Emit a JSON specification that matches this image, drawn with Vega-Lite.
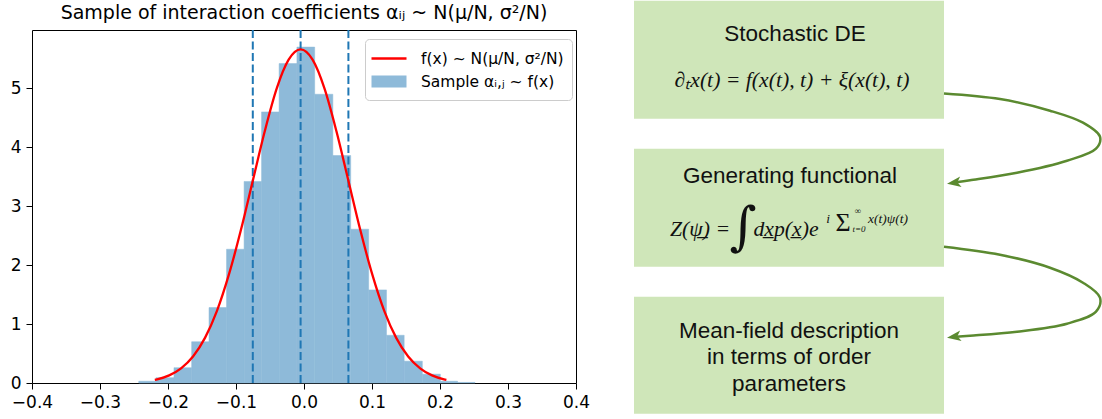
{
  "$schema": "https://vega.github.io/schema/vega-lite/v6.json",
  "padding": {"left": 9, "top": 0, "right": 0, "bottom": 0},
  "spacing": 24,
  "bounds": "flush",
  "config": {
    "view": {"stroke": null},
    "font": "DejaVu Sans",
    "axis": {"domain": false, "grid": false, "tickColor": "black", "tickSize": 6, "tickWidth": 1, "labelColor": "black", "labelFont": "DejaVu Sans", "labelFontSize": 17, "labelPadding": 5, "labelFlush": false, "labelOverlap": false, "title": null}
  },
  "resolve": {"scale": {"color": "independent", "shape": "independent"}, "legend": {"color": "independent", "shape": "independent"}},
  "datasets": {
    "bins": [
      {"bin_start": -0.2430, "bin_end": -0.2177, "density": 0.03, "series": "Sample αᵢ,ⱼ ~ f(x)"},
      {"bin_start": -0.2177, "bin_end": -0.1912, "density": 0.09, "series": "Sample αᵢ,ⱼ ~ f(x)"},
      {"bin_start": -0.1912, "bin_end": -0.1652, "density": 0.26, "series": "Sample αᵢ,ⱼ ~ f(x)"},
      {"bin_start": -0.1652, "bin_end": -0.1397, "density": 0.70, "series": "Sample αᵢ,ⱼ ~ f(x)"},
      {"bin_start": -0.1397, "bin_end": -0.1139, "density": 1.28, "series": "Sample αᵢ,ⱼ ~ f(x)"},
      {"bin_start": -0.1139, "bin_end": -0.0881, "density": 2.27, "series": "Sample αᵢ,ⱼ ~ f(x)"},
      {"bin_start": -0.0881, "bin_end": -0.0624, "density": 3.42, "series": "Sample αᵢ,ⱼ ~ f(x)"},
      {"bin_start": -0.0624, "bin_end": -0.0366, "density": 4.60, "series": "Sample αᵢ,ⱼ ~ f(x)"},
      {"bin_start": -0.0366, "bin_end": -0.0104, "density": 5.42, "series": "Sample αᵢ,ⱼ ~ f(x)"},
      {"bin_start": -0.0104, "bin_end": 0.0157, "density": 5.70, "series": "Sample αᵢ,ⱼ ~ f(x)"},
      {"bin_start": 0.0157, "bin_end": 0.0424, "density": 4.90, "series": "Sample αᵢ,ⱼ ~ f(x)"},
      {"bin_start": 0.0424, "bin_end": 0.0687, "density": 3.86, "series": "Sample αᵢ,ⱼ ~ f(x)"},
      {"bin_start": 0.0687, "bin_end": 0.0951, "density": 2.61, "series": "Sample αᵢ,ⱼ ~ f(x)"},
      {"bin_start": 0.0951, "bin_end": 0.1213, "density": 1.58, "series": "Sample αᵢ,ⱼ ~ f(x)"},
      {"bin_start": 0.1213, "bin_end": 0.1473, "density": 0.81, "series": "Sample αᵢ,ⱼ ~ f(x)"},
      {"bin_start": 0.1473, "bin_end": 0.1740, "density": 0.37, "series": "Sample αᵢ,ⱼ ~ f(x)"},
      {"bin_start": 0.1740, "bin_end": 0.2005, "density": 0.15, "series": "Sample αᵢ,ⱼ ~ f(x)"},
      {"bin_start": 0.2005, "bin_end": 0.2258, "density": 0.03, "series": "Sample αᵢ,ⱼ ~ f(x)"},
      {"bin_start": 0.2258, "bin_end": 0.2515, "density": 0.01, "series": "Sample αᵢ,ⱼ ~ f(x)"}
    ],
    "sigma_lines": [
      {"position": -0.0753},
      {"position": -0.0050},
      {"position": 0.0653}
    ],
    "pdf": [
      {"x": -0.2194, "y": 0.054, "series": "f(x) ~ N(μ/N, σ²/N)"},
      {"x": -0.2159, "y": 0.063, "series": "f(x) ~ N(μ/N, σ²/N)"},
      {"x": -0.1983, "y": 0.129, "series": "f(x) ~ N(μ/N, σ²/N)"},
      {"x": -0.1808, "y": 0.249, "series": "f(x) ~ N(μ/N, σ²/N)"},
      {"x": -0.1632, "y": 0.450, "series": "f(x) ~ N(μ/N, σ²/N)"},
      {"x": -0.1456, "y": 0.766, "series": "f(x) ~ N(μ/N, σ²/N)"},
      {"x": -0.1280, "y": 1.224, "series": "f(x) ~ N(μ/N, σ²/N)"},
      {"x": -0.1105, "y": 1.838, "series": "f(x) ~ N(μ/N, σ²/N)"},
      {"x": -0.0929, "y": 2.591, "series": "f(x) ~ N(μ/N, σ²/N)"},
      {"x": -0.0753, "y": 3.433, "series": "f(x) ~ N(μ/N, σ²/N)"},
      {"x": -0.0577, "y": 4.272, "series": "f(x) ~ N(μ/N, σ²/N)"},
      {"x": -0.0402, "y": 4.995, "series": "f(x) ~ N(μ/N, σ²/N)"},
      {"x": -0.0226, "y": 5.486, "series": "f(x) ~ N(μ/N, σ²/N)"},
      {"x": -0.0050, "y": 5.660, "series": "f(x) ~ N(μ/N, σ²/N)"},
      {"x": 0.0126, "y": 5.486, "series": "f(x) ~ N(μ/N, σ²/N)"},
      {"x": 0.0302, "y": 4.995, "series": "f(x) ~ N(μ/N, σ²/N)"},
      {"x": 0.0477, "y": 4.272, "series": "f(x) ~ N(μ/N, σ²/N)"},
      {"x": 0.0653, "y": 3.433, "series": "f(x) ~ N(μ/N, σ²/N)"},
      {"x": 0.0829, "y": 2.591, "series": "f(x) ~ N(μ/N, σ²/N)"},
      {"x": 0.1005, "y": 1.838, "series": "f(x) ~ N(μ/N, σ²/N)"},
      {"x": 0.1180, "y": 1.224, "series": "f(x) ~ N(μ/N, σ²/N)"},
      {"x": 0.1356, "y": 0.766, "series": "f(x) ~ N(μ/N, σ²/N)"},
      {"x": 0.1532, "y": 0.450, "series": "f(x) ~ N(μ/N, σ²/N)"},
      {"x": 0.1708, "y": 0.249, "series": "f(x) ~ N(μ/N, σ²/N)"},
      {"x": 0.1883, "y": 0.129, "series": "f(x) ~ N(μ/N, σ²/N)"},
      {"x": 0.2059, "y": 0.063, "series": "f(x) ~ N(μ/N, σ²/N)"},
      {"x": 0.2094, "y": 0.054, "series": "f(x) ~ N(μ/N, σ²/N)"}
    ],
    "boxes": [
      {"box": "sde", "x": 34, "x2": 344, "y": 0, "y2": 118},
      {"box": "gf", "x": 34, "x2": 344, "y": 148, "y2": 266},
      {"box": "mf", "x": 34, "x2": 344, "y": 296, "y2": 413}
    ],
    "headings": [
      {"label": "Stochastic DE", "x": 195, "y": 33},
      {"label": "Generating functional", "x": 190, "y": 175},
      {"label": "Mean-field description\nin terms of order\nparameters", "x": 189, "y": 330}
    ],
    "equations": [
      {"label": "∂ₜx(t) = f(x(t), t) + ξ(x(t), t)", "x": 192, "y": 79},
      {"label": "Z(ψ̲) =", "x": 100, "y": 228},
      {"label": "dx̲p(x̲)e", "x": 186, "y": 228}
    ],
    "integral": [
      {"label": "∫", "x": 143, "y": 227}
    ],
    "exponent": [
      {"label": "i", "x": 228, "y": 218},
      {"label": "x(t)ψ(t)", "x": 288, "y": 218}
    ],
    "sum": [
      {"label": "Σ", "x": 243, "y": 222}
    ],
    "limits": [
      {"label": "∞", "x": 258, "y": 210},
      {"label": "t=0", "x": 259, "y": 228}
    ],
    "arrows": [
      {"arrow": "a1", "i": 0, "x": 344, "y": 92.7},
      {"arrow": "a1", "i": 1, "x": 400, "y": 98.3},
      {"arrow": "a1", "i": 2, "x": 450, "y": 110},
      {"arrow": "a1", "i": 3, "x": 483, "y": 122},
      {"arrow": "a1", "i": 4, "x": 500, "y": 136},
      {"arrow": "a1", "i": 5, "x": 496, "y": 148},
      {"arrow": "a1", "i": 6, "x": 467, "y": 160},
      {"arrow": "a1", "i": 7, "x": 417, "y": 172},
      {"arrow": "a1", "i": 8, "x": 370, "y": 179.5},
      {"arrow": "a1", "i": 9, "x": 356, "y": 181.5},
      {"arrow": "a2", "i": 0, "x": 344, "y": 246},
      {"arrow": "a2", "i": 1, "x": 400, "y": 254},
      {"arrow": "a2", "i": 2, "x": 450, "y": 267},
      {"arrow": "a2", "i": 3, "x": 483, "y": 282},
      {"arrow": "a2", "i": 4, "x": 500, "y": 297},
      {"arrow": "a2", "i": 5, "x": 496, "y": 311},
      {"arrow": "a2", "i": 6, "x": 467, "y": 323},
      {"arrow": "a2", "i": 7, "x": 417, "y": 331},
      {"arrow": "a2", "i": 8, "x": 370, "y": 335},
      {"arrow": "a2", "i": 9, "x": 356, "y": 336}
    ],
    "arrowheads": [
      {"arrow": "a1", "x": 347, "y": 183},
      {"arrow": "a2", "x": 347, "y": 337}
    ]
  },
  "hconcat": [
    {
      "width": 544,
      "height": 353,
      "view": {"stroke": "black", "strokeWidth": 1},
      "title": {"text": "Sample of interaction coefficients αᵢⱼ ~ N(μ/N, σ²/N)", "font": "DejaVu Sans", "fontSize": 19, "fontWeight": "normal", "color": "black", "offset": 6, "anchor": "middle"},
      "layer": [
        {
          "data": {"name": "bins"},
          "mark": {"type": "bar", "stroke": "#8ebad9", "strokeWidth": 0.5},
          "encoding": {
            "x": {"field": "bin_start", "type": "quantitative", "scale": {"domain": [-0.4, 0.4], "nice": false, "zero": false}, "axis": {"values": [-0.4, -0.3, -0.2, -0.1, 0, 0.1, 0.2, 0.3, 0.4], "format": ".1f"}},
            "x2": {"field": "bin_end"},
            "y": {"field": "density", "type": "quantitative", "scale": {"domain": [0, 5.99], "nice": false}, "axis": {"values": [0, 1, 2, 3, 4, 5], "format": "d"}},
            "y2": {"datum": 0},
            "color": {
              "field": "series", "type": "nominal",
              "scale": {"domain": ["f(x) ~ N(μ/N, σ²/N)", "Sample αᵢ,ⱼ ~ f(x)"], "range": ["#ff0000", "#8ebad9"]},
              "legend": {
                "title": null, "orient": "none", "legendX": 333, "legendY": 9,
                "padding": 8, "strokeColor": "#cccccc", "fillColor": "rgba(255,255,255,0.8)", "cornerRadius": 4,
                "labelFont": "DejaVu Sans", "labelFontSize": 15.5, "labelColor": "black",
                "symbolSize": 400, "symbolStrokeWidth": 2.5, "symbolOpacity": 1, "labelOffset": 20.5, "rowPadding": 3, "symbolOffset": 4.5
              }
            }
          }
        },
        {
          "data": {"name": "sigma_lines"},
          "mark": {"type": "rule", "color": "#1f77b4", "strokeWidth": 2, "strokeDash": [8, 3.5]},
          "encoding": {
            "x": {"field": "position", "type": "quantitative"}
          }
        },
        {
          "data": {"name": "pdf"},
          "mark": {"type": "line", "interpolate": "monotone", "strokeWidth": 2.3},
          "encoding": {
            "x": {"field": "x", "type": "quantitative"},
            "y": {"field": "y", "type": "quantitative"},
            "color": {"field": "series", "type": "nominal"}
          }
        },
        {
          "data": {"name": "pdf"},
          "mark": {"type": "point", "filled": true, "size": 0, "opacity": 1},
          "encoding": {
            "x": {"field": "x", "type": "quantitative"},
            "y": {"field": "y", "type": "quantitative"},
            "color": {"field": "series", "type": "nominal"},
            "shape": {
              "field": "series", "type": "nominal",
              "scale": {"domain": ["f(x) ~ N(μ/N, σ²/N)", "Sample αᵢ,ⱼ ~ f(x)"], "range": ["M-1.75,0L1.75,0", "M-1.625,-0.475L1.625,-0.475L1.625,0.475L-1.625,0.475Z"]},
              "legend": {
                "title": null, "orient": "none", "legendX": 333, "legendY": 9,
                "padding": 8, "strokeColor": "#cccccc", "fillColor": "rgba(255,255,255,0.8)", "cornerRadius": 4,
                "labelFont": "DejaVu Sans", "labelFontSize": 15.5, "labelColor": "black",
                "symbolSize": 400, "symbolStrokeWidth": 2.5, "symbolOpacity": 1, "labelOffset": 20.5, "rowPadding": 3, "symbolOffset": 4.5
              }
            }
          }
        }
      ]
    },
    {
      "width": 502,
      "height": 390,
      "encoding": {
        "x": {"field": "x", "type": "quantitative", "scale": {"domain": [0, 502], "nice": false, "zero": false}, "axis": null},
        "y": {"field": "y", "type": "quantitative", "scale": {"domain": [29.3, 419.3], "nice": false, "zero": false, "reverse": true}, "axis": null}
      },
      "layer": [
        {
          "data": {"name": "boxes"},
          "mark": {"type": "rect", "color": "#cfe6b9"},
          "encoding": {
            "x2": {"field": "x2"},
            "y2": {"field": "y2"}
          }
        },
        {
          "data": {"name": "headings"},
          "mark": {"type": "text", "font": "Liberation Sans", "fontSize": 22.5, "color": "#111111", "align": "center", "baseline": "middle", "lineBreak": "\n", "lineHeight": 26.5},
          "encoding": {"text": {"field": "label"}}
        },
        {
          "data": {"name": "equations"},
          "mark": {"type": "text", "font": "Liberation Serif", "fontSize": 21.7, "fontStyle": "italic", "color": "#111111", "align": "center", "baseline": "middle"},
          "encoding": {"text": {"field": "label"}}
        },
        {
          "data": {"name": "integral"},
          "mark": {"type": "text", "font": "DejaVu Serif", "fontSize": 52, "color": "#111111", "align": "center", "baseline": "middle"},
          "encoding": {"text": {"field": "label"}}
        },
        {
          "data": {"name": "exponent"},
          "mark": {"type": "text", "font": "Liberation Serif", "fontSize": 13.5, "fontStyle": "italic", "color": "#111111", "align": "center", "baseline": "middle"},
          "encoding": {"text": {"field": "label"}}
        },
        {
          "data": {"name": "sum"},
          "mark": {"type": "text", "font": "Liberation Serif", "fontSize": 26, "color": "#111111", "align": "center", "baseline": "middle"},
          "encoding": {"text": {"field": "label"}}
        },
        {
          "data": {"name": "limits"},
          "mark": {"type": "text", "font": "Liberation Serif", "fontSize": 9, "fontStyle": "italic", "color": "#111111", "align": "center", "baseline": "middle"},
          "encoding": {"text": {"field": "label"}}
        },
        {
          "data": {"name": "arrows"},
          "mark": {"type": "line", "interpolate": "catmull-rom", "color": "#5b8a30", "strokeWidth": 2.5},
          "encoding": {
            "detail": {"field": "arrow"},
            "order": {"field": "i", "type": "quantitative"}
          }
        },
        {
          "data": {"name": "arrowheads"},
          "mark": {"type": "point", "filled": true, "color": "#5b8a30", "opacity": 1, "size": 306, "shape": "M0,0L1.6,-0.6L1.2,0L1.6,0.6Z", "angle": 352, "strokeWidth": 0}
        }
      ]
    }
  ]
}
